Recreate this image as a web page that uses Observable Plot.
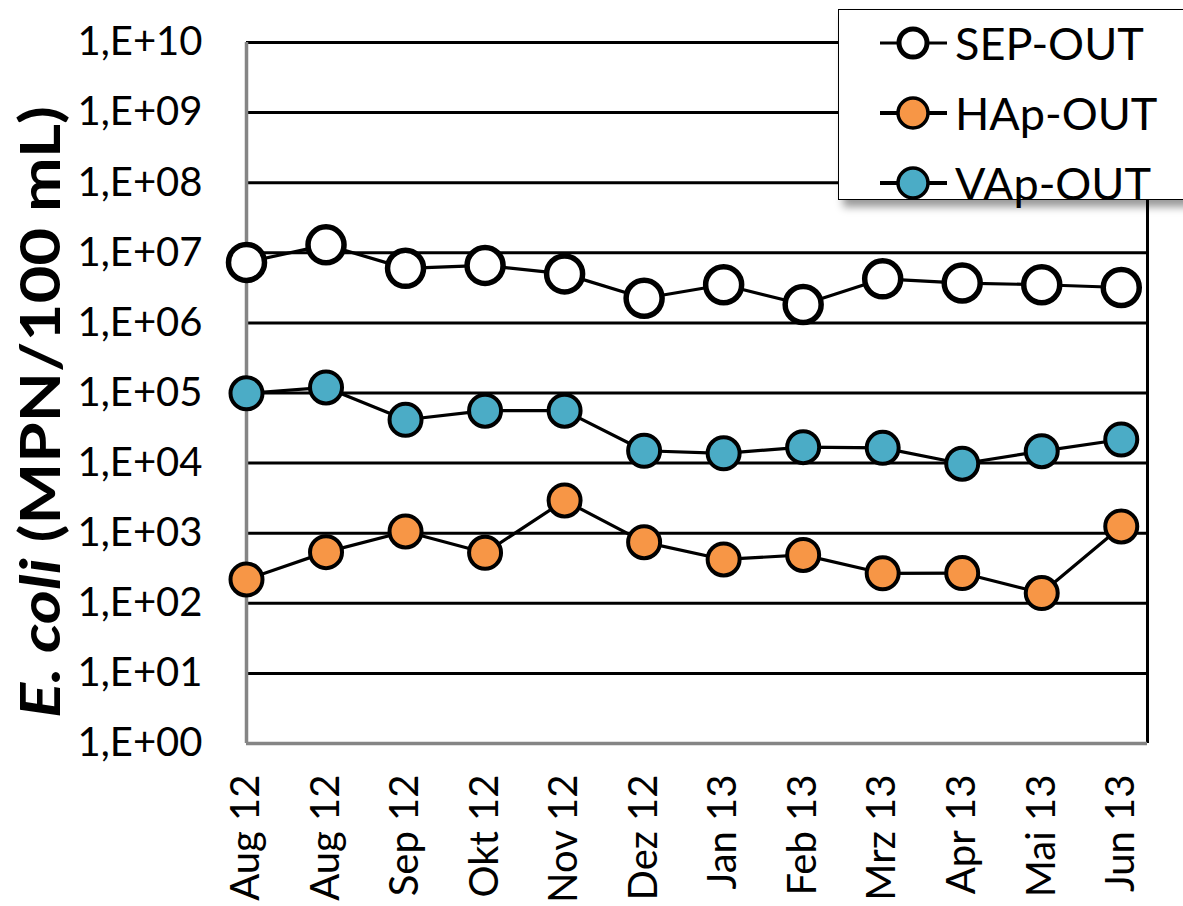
<!DOCTYPE html>
<html><head><meta charset="utf-8">
<script src="https://cdn.jsdelivr.net/npm/d3@7"></script>
<script src="https://cdn.jsdelivr.net/npm/@observablehq/plot@0.6"></script>
<style>
body{margin:0;background:#fff;overflow:hidden;font-family:Lato,"Liberation Sans",Arial,sans-serif;}
#wrap{position:relative;width:1183px;height:906px;overflow:hidden;}
#legend{position:absolute;left:838px;top:9px;width:380px;height:191px;border:1.5px solid #000;background:#fff;box-shadow:5px 7px 8px rgba(0,0,0,0.4);box-sizing:border-box;}
.row{position:absolute;left:40px;height:60px;display:flex;align-items:center;}
.row span{font-size:45px;margin-left:6px;line-height:1;}
</style></head><body><div id="wrap"></div>
<script>
const labels = ["Aug 12","Aug 12","Sep 12","Okt 12","Nov 12","Dez 12","Jan 13","Feb 13","Mrz 13","Apr 13","Mai 13","Jun 13"];
const seriesNames = ["SEP-OUT","HAp-OUT","VAp-OUT"];
const seriesFill = ["#FFFFFF","#F79646","#4BACC6"];
const sepOut = [7.3e6, 1.3e7, 6.0e6, 6.6e6, 5.0e6, 2.25e6, 3.5e6, 1.83e6, 4.25e6, 3.7e6, 3.5e6, 3.2e6];
const hapOut = [219, 537, 1060, 525, 2930, 745, 422, 490, 268, 270, 140, 1250];
const vapOut = [9.9e4, 1.2e5, 4.15e4, 5.6e4, 5.6e4, 1.5e4, 1.38e4, 1.69e4, 1.65e4, 9.8e3, 1.48e4, 2.17e4];
const yTicks = [1,1e1,1e2,1e3,1e4,1e5,1e6,1e7,1e8,1e9,1e10];
const yTitleItalic = "E. coli";
const yTitleRest = " (MPN/100 mL)";

const seriesValues = [sepOut, hapOut, vapOut];
const data = [];
seriesNames.forEach((s,k)=>seriesValues[k].forEach((v,i)=>data.push({series:s,i,v})));
const xMax = 11.33;

const marks = [
  Plot.ruleY(yTicks.slice(1), {stroke:"#000", strokeWidth:3}),
  Plot.ruleX([xMax], {stroke:"#000", strokeWidth:3}),
  Plot.ruleX([0], {stroke:"#858585", strokeWidth:3.5}),
  Plot.ruleY([1], {stroke:"#858585", strokeWidth:3.5}),
];
seriesNames.forEach((s,k)=>{
  const sub = data.filter(d=>d.series===s);
  marks.push(Plot.line(sub, {x:"i", y:"v", stroke:"#000", strokeWidth:3.2}));
  marks.push(Plot.dot(sub, {x:"i", y:"v", fill:seriesFill[k], stroke:"#000",
    r: k===0 ? 18 : 16, strokeWidth: k===0 ? 5.5 : 4}));
});
marks.push(Plot.axisY({ticks:yTicks, tickFormat:d=>"1,E+"+String(Math.round(Math.log10(d))).padStart(2,"0"), tickSize:0, tickPadding:44, label:null}));
marks.push(Plot.axisX({ticks:d3.range(12), tickFormat:i=>labels[i], tickRotate:-90, tickSize:0, tickPadding:31, label:null}));

const chart = Plot.plot({
  width:1183, height:906, marginLeft:246, marginRight:36, marginTop:42, marginBottom:163,
  style:{fontFamily:"Lato, 'Liberation Sans', Arial, sans-serif", fontSize:"40px", color:"#000", background:"#fff", overflow:"visible"},
  x:{type:"linear", domain:[0, xMax]},
  y:{type:"log", domain:[1, 1e10]},
  marks
});
const svg = d3.select(chart);
const t = svg.append("text").attr("transform","translate(60,412) rotate(-90)")
  .attr("text-anchor","middle").attr("font-size",56).attr("font-weight","bold")
  .attr("textLength",612).attr("lengthAdjust","spacingAndGlyphs")
  .attr("font-family","Lato, 'Liberation Sans', Arial, sans-serif").attr("fill","#000");
t.append("tspan").attr("font-style","italic").text(yTitleItalic);
t.append("tspan").text(yTitleRest);

const wrap = document.getElementById("wrap");
wrap.appendChild(chart);

const legend = document.createElement("div");
legend.id = "legend";
seriesNames.forEach((s,k)=>{
  const row = document.createElement("div");
  row.className = "row";
  row.style.top = (3 + k*70) + "px";
  const ns = "http://www.w3.org/2000/svg";
  const sv = document.createElementNS(ns,"svg");
  sv.setAttribute("width","70"); sv.setAttribute("height","40");
  const ln = document.createElementNS(ns,"line");
  ln.setAttribute("x1","1"); ln.setAttribute("x2","68"); ln.setAttribute("y1","20"); ln.setAttribute("y2","20");
  ln.setAttribute("stroke","#000"); ln.setAttribute("stroke-width", k===0 ? "3" : "4");
  const c = document.createElementNS(ns,"circle");
  c.setAttribute("cx","34"); c.setAttribute("cy","20"); c.setAttribute("r", k===0 ? "14" : "15");
  c.setAttribute("fill", seriesFill[k]); c.setAttribute("stroke","#000"); c.setAttribute("stroke-width", k===0 ? "5" : "3.5");
  sv.appendChild(ln); sv.appendChild(c);
  const sp = document.createElement("span");
  sp.textContent = s;
  row.appendChild(sv); row.appendChild(sp);
  legend.appendChild(row);
});
wrap.appendChild(legend);
</script></body></html>
